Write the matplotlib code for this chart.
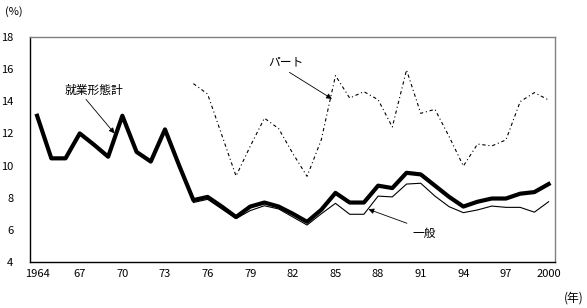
import matplotlib
matplotlib.use("Agg")
import matplotlib.pyplot as plt

plt.rcParams['font.family'] = ['Noto Sans CJK JP', 'DejaVu Sans']

years_total = list(range(1964, 2001))
total = [13.1, 10.45, 10.45, 12.0, 11.3, 10.55, 13.1, 10.85, 10.25, 12.25,
         10.0, 7.85, 8.05, 7.45, 6.8, 7.45, 7.7, 7.45, 7.0, 6.5,
         7.25, 8.3, 7.7, 7.7, 8.75, 8.6, 9.55, 9.45, 8.75, 8.05,
         7.45, 7.75, 7.95, 7.95, 8.25, 8.35, 8.85]

years_general = list(range(1975, 2001))
general = [7.7, 7.9, 7.3, 6.7, 7.2, 7.5, 7.3, 6.8, 6.3,
           7.0, 7.65, 6.97, 6.97, 8.1, 8.05, 8.85, 8.9, 8.1, 7.44,
           7.07, 7.24, 7.48, 7.4, 7.4, 7.1, 7.75]

years_part = list(range(1975, 2001))
part = [15.1, 14.45, 11.9, 9.35, 11.2, 12.95, 12.3, 10.75, 9.33,
        11.6, 15.6, 14.2, 14.6, 14.1, 12.4, 15.95, 13.25, 13.5, 11.8,
        9.97, 11.34, 11.22, 11.6, 13.98, 14.54, 14.08]

xtick_pos = [1964, 1967, 1970, 1973, 1976, 1979, 1982, 1985, 1988, 1991, 1994, 1997, 2000]
xtick_labels = ["1964", "67", "70", "73", "76", "79", "82", "85", "88", "91", "94", "97", "2000"]
ytick_pos = [4, 6, 8, 10, 12, 14, 16, 18]

fig = plt.figure(figsize=(5.87, 3.08), dpi=100)
ax = fig.add_axes([30/587, 46/308, 525/587, 225/308])

ax.plot(years_general, general, color='black', lw=0.8, zorder=2)
ax.plot(years_total, total, color='black', lw=3.0, solid_joinstyle='round', zorder=3)
ax.plot(years_part, part, color='black', lw=0.8, linestyle=(0, (3, 2.5, 1, 2.5)), zorder=2)

ax.set_xlim(1963.5, 2000.45)
ax.set_ylim(4, 18)
ax.set_xticks(xtick_pos)
ax.set_xticklabels(xtick_labels)
ax.set_yticks(ytick_pos)
ax.set_yticklabels([str(v) for v in ytick_pos])
ax.tick_params(axis='both', length=0, labelsize=8)
ax.tick_params(axis='y', pad=12)
ax.tick_params(axis='x', pad=5)

for s in ['top', 'right']:
    ax.spines[s].set_color('#808080')
    ax.spines[s].set_linewidth(1.0)
for s in ['left', 'bottom']:
    ax.spines[s].set_color('black')
    ax.spines[s].set_linewidth(1.0)

arrowprops = dict(arrowstyle='-|>', color='black', lw=0.6, mutation_scale=8,
                  shrinkA=0, shrinkB=0)

ax.text(1965.96, 14.7, '就業形態計', fontsize=8.5, ha='left', va='center')
ax.annotate('', xy=(1969.45, 12.0), xytext=(1967.44, 14.12), arrowprops=arrowprops)

ax.text(1980.26, 16.45, 'パート', fontsize=8.5, ha='left', va='center')
ax.annotate('', xy=(1984.75, 14.15), xytext=(1981.76, 15.8), arrowprops=arrowprops)

ax.text(1990.4, 5.8, '一般', fontsize=8.5, ha='left', va='center')
ax.annotate('', xy=(1987.32, 7.28), xytext=(1990.03, 6.41), arrowprops=arrowprops)

fig.text(5/587, 1 - 12/308, '(%)', fontsize=8, ha='left', va='center')
fig.text(584/587, 1 - 298/308, '(年)', fontsize=8.5, ha='right', va='center')

fig.savefig('out.png', dpi=100)
